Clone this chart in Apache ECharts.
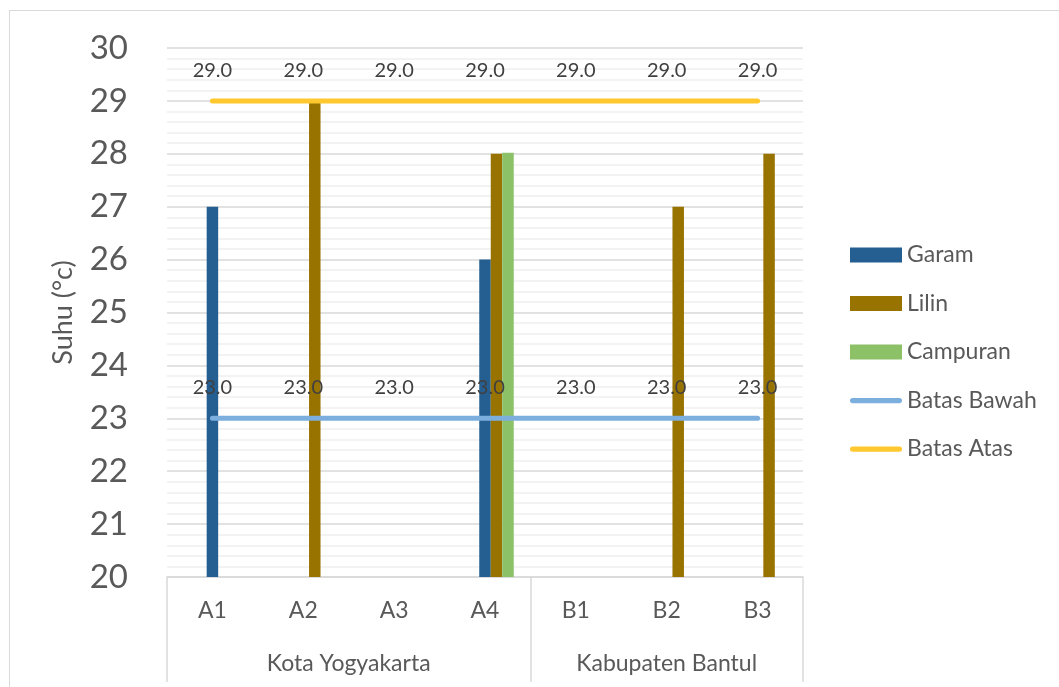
<!DOCTYPE html>
<html>
<head>
<meta charset="utf-8">
<script src="https://cdn.jsdelivr.net/npm/echarts@6/dist/echarts.min.js"></script>
<style>
  html, body { margin: 0; padding: 0; background: #fff; overflow: hidden; }
  #frame { position: absolute; left: 9px; top: 10px; width: 1200px; height: 800px;
           border: 1.5px solid #d9d9d9; box-sizing: border-box; }
  #chart { position: absolute; left: 0; top: 0; width: 1059px; height: 687px; }
</style>
</head>
<body>
<div id="frame"></div>
<div id="chart"></div>
<script>
// Sampling sites and their regions
const sites = ['A1', 'A2', 'A3', 'A4', 'B1', 'B2', 'B3'];
const regions = ['Kota Yogyakarta', 'Kabupaten Bantul'];
const regionSizes = [4, 3];

// Measured temperature (°C) per site; null where no sample
const garam    = [27, null, null, 26, null, null, null];
const lilin    = [null, 29, null, 28, null, 27, 28];
const campuran = [null, null, null, 28.02, null, null, null];

// Acceptable range limits
const batasBawah = [23, 23, 23, 23, 23, 23, 23];
const batasAtas  = [29, 29, 29, 29, 29, 29, 29];

// Y axis range
const yMin = 20, yMax = 30, yStep = 1;

const FONT = 'Lato';
const TXT = '#595959';

// Region boundaries and centres in category units
const regionEdges = [0];
regionSizes.forEach(n => regionEdges.push(regionEdges[regionEdges.length - 1] + n));
const regionCentres = regions.map((_, i) => (regionEdges[i] + regionEdges[i + 1]) / 2);

// Legend key for the limit lines: a thick rounded stroke centred in a 52x15 box
const lineKey = 'path://M0,0L0.01,0Z M2.6,5H49.4A2.6,2.6 0 0 1 49.4,10.2H2.6A2.6,2.6 0 0 1 2.6,5Z M0,15L0.01,15Z';

const chart = echarts.init(document.getElementById('chart'));

const barBase = { type: 'bar', barWidth: 11.5, barGap: '0%', xAxisIndex: 0 };
const lineLabel = {
  show: true, position: 'top', distance: 20,
  fontFamily: FONT, fontSize: 20, color: '#404040',
  formatter: p => p.value.toFixed(1)
};

function limitLine(name, data, color) {
  return {
    name, type: 'line', data,
    symbol: 'circle', symbolSize: 1, showSymbol: true,
    lineStyle: { color, width: 5, cap: 'round' },
    itemStyle: { color },
    label: lineLabel, z: 3
  };
}

chart.setOption({
  animation: false,
  textStyle: { fontFamily: FONT },
  grid: { left: 167, right: 256, top: 48, bottom: 110 },
  legend: {
    orient: 'vertical', left: 845, top: 238,
    itemWidth: 52, itemHeight: 15, itemGap: 24.5,
    data: [
      { name: 'Garam', icon: 'rect' },
      { name: 'Lilin', icon: 'rect' },
      { name: 'Campuran', icon: 'rect' },
      { name: 'Batas Bawah', icon: lineKey },
      { name: 'Batas Atas', icon: lineKey }
    ],
    symbolKeepAspect: false,
    textStyle: { fontFamily: FONT, fontSize: 23, color: TXT, lineHeight: 24 }
  },
  xAxis: [
    {
      type: 'category', data: sites, position: 'bottom',
      axisLine: { lineStyle: { color: '#d9d9d9', width: 1.5 } },
      axisTick: { show: false },
      axisLabel: { fontFamily: FONT, fontSize: 23, color: TXT, margin: 22 },
      splitLine: { show: false }
    },
    {
      type: 'value', min: 0, max: sites.length, position: 'bottom',
      axisLine: { show: false },
      splitLine: { show: false },
      axisTick: { show: true, customValues: regionEdges, length: 105,
                  lineStyle: { color: '#d9d9d9', width: 1.5 } },
      axisLabel: {
        show: true, customValues: regionCentres, margin: 75,
        fontFamily: FONT, fontSize: 23, color: TXT,
        formatter: v => regions[regionCentres.indexOf(v)]
      }
    }
  ],
  yAxis: {
    type: 'value', min: yMin, max: yMax, interval: yStep,
    name: 'Suhu (°c)', nameLocation: 'middle', nameGap: 90,
    nameTextStyle: { fontFamily: FONT, fontSize: 27, color: TXT },
    axisLine: { show: false }, axisTick: { show: false },
    axisLabel: { fontFamily: FONT, fontSize: 33, color: TXT, margin: 39 },
    splitLine: { lineStyle: { color: '#d9d9d9', width: 1.5 } },
    minorTick: { show: true, splitNumber: 5, length: 0 },
    minorSplitLine: { show: true, lineStyle: { color: '#efefef', width: 1.5 } }
  },
  series: [
    // two empty slots keep the cluster offset as in the original layout
    Object.assign({ name: 'slot1', data: sites.map(() => null) }, barBase),
    Object.assign({ name: 'slot2', data: sites.map(() => null) }, barBase),
    Object.assign({ name: 'Garam', data: garam, itemStyle: { color: '#255e91' } }, barBase),
    Object.assign({ name: 'Lilin', data: lilin, itemStyle: { color: '#997300' } }, barBase),
    Object.assign({ name: 'Campuran', data: campuran, itemStyle: { color: '#8cc168' } }, barBase),
    limitLine('Batas Bawah', batasBawah, '#7cafdd'),
    limitLine('Batas Atas', batasAtas, '#ffc82e')
  ]
});
</script>
</body>
</html>
